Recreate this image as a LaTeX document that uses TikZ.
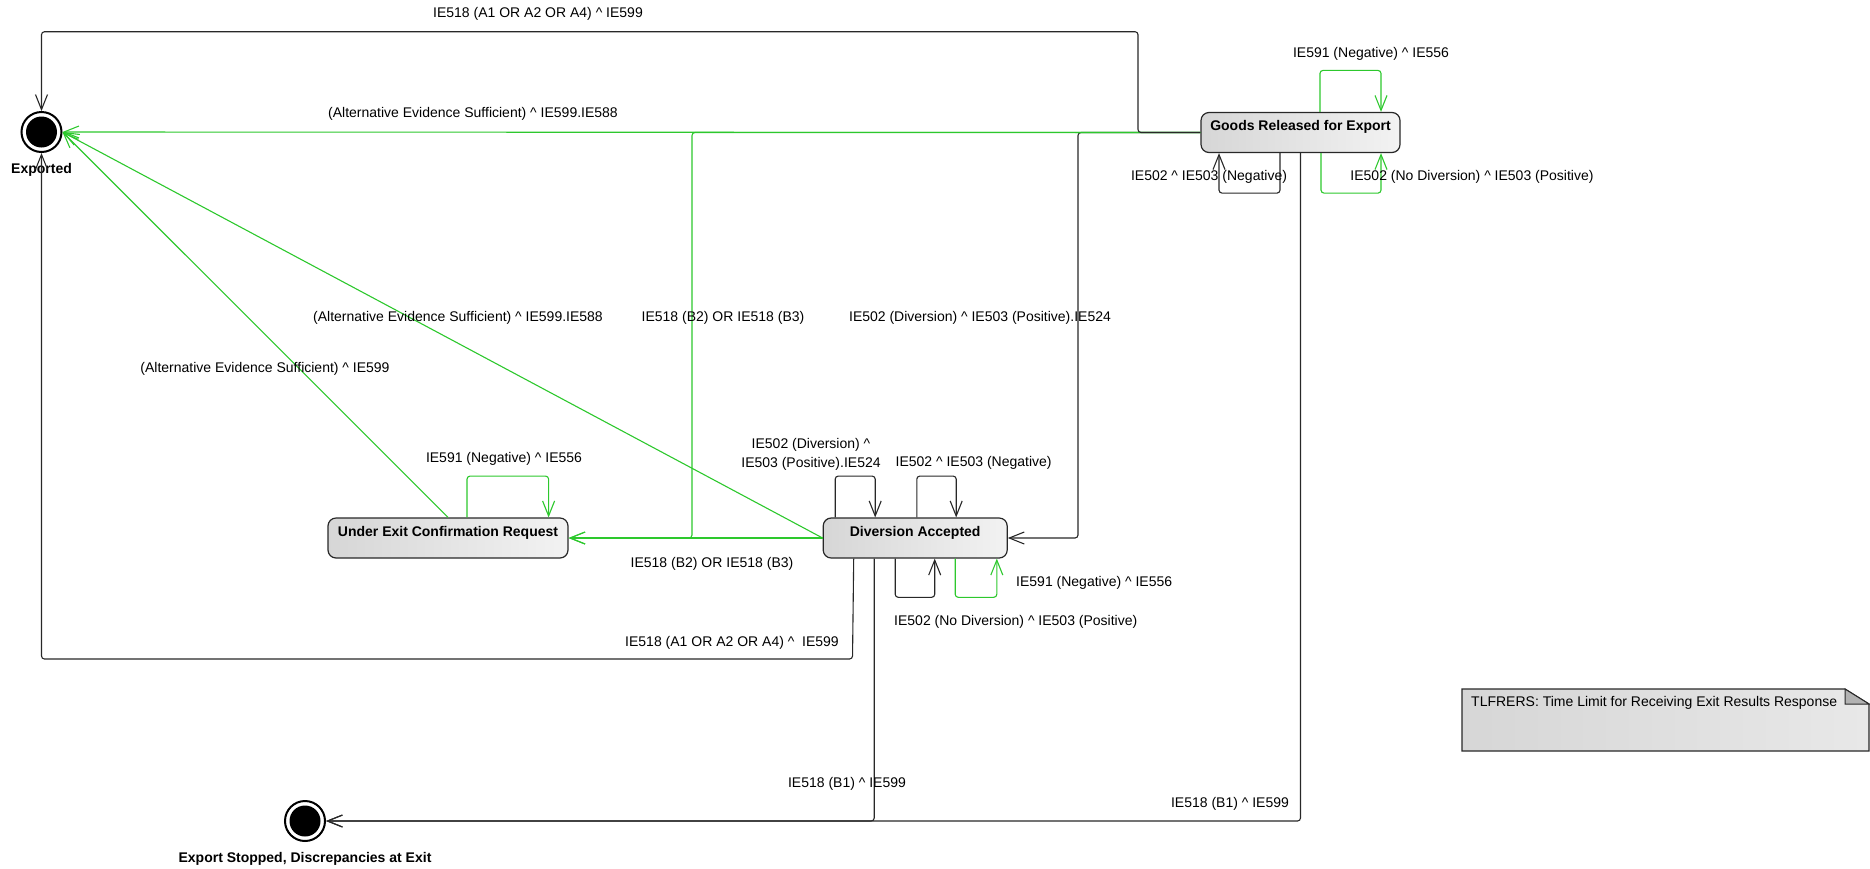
\documentclass[tikz,border=0pt]{standalone}
\usepackage{fontspec}
\setmainfont{Liberation Sans}
\usetikzlibrary{arrows.meta, positioning, calc}
\definecolor{flowgreen}{RGB}{45,200,45}
\definecolor{edgegray}{RGB}{40,40,40}
\newcommand{\msgcaret}{\textasciicircum}
\tikzset{
  state/.style={rectangle, rounded corners=8pt, draw=edgegray, line width=1.2pt,
    left color=gray!32, right color=gray!10, inner xsep=0pt, inner ysep=3pt,
    text height=15pt, text depth=19pt, font=\fontsize{14}{17}\selectfont\bfseries},
  final/.style={circle, draw=black, line width=2pt, fill=white, minimum size=40pt, inner sep=0pt,
    path picture={\fill[black] (path picture bounding box.center) circle (15.5pt);}},
  finallbl/.style={inner sep=0pt, label distance=10pt, font=\fontsize{14}{17}\selectfont\bfseries},
  trans/.style={-{Straight Barb[length=15pt,width=12pt]}, line width=1.1pt, draw=edgegray, rounded corners=3pt},
  gtrans/.style={trans, draw=flowgreen},
  lbl/.style={inner sep=0pt, font=\fontsize{14}{19}\selectfont}
}

\begin{document}
\begin{tikzpicture}[x=1pt, y=-1pt]
  \useasboundingbox (0,0) rectangle (1870,868);
  % states
  \node[final, label={[finallbl]below:Exported}] (exported) at (41.5,132) {};
  \node[state, minimum width=199pt] (goods) at (1300.5,132.5) {Goods Released for Export};
  \node[state, minimum width=240pt] (underexit) at (448,538) {Under Exit Confirmation Request};
  \node[state, minimum width=184pt, right=254pt of underexit] (diversion) {Diversion Accepted};
  \node[final, label={[finallbl]below:Export Stopped, Discrepancies at Exit}] (stopped) at (305,821) {};

  % transitions out of Goods Released
  \draw[trans] (goods.west) -| (1078,538) -- (diversion.east);
  \draw[gtrans] (goods.west) -- (exported.east);
  \draw[gtrans] (goods.west) -| (692,538) -- (underexit.east);
  \draw[trans] (goods.west) -- (1138,132.5) -- (1138,31.7) -| (exported.north);
  \draw[trans] (goods.south) |- (stopped.east);
  \draw[gtrans] ([xshift=19.5pt]goods.north) -- ++(0,-41.5) -| ([xshift=80.5pt]goods.north);
  \draw[trans] ([xshift=-20.5pt]goods.south) -- ++(0,40) -| ([xshift=-81.5pt]goods.south);
  \draw[gtrans] ([xshift=20.5pt]goods.south) -- ++(0,40) -| ([xshift=80.5pt]goods.south);

  % transitions out of Under Exit Confirmation Request
  \draw[gtrans] (underexit.north) -- (exported.east);
  \draw[gtrans] ([xshift=19pt]underexit.north) -- ++(0,-41.3) -| ([xshift=100.6pt]underexit.north);

  % transitions out of Diversion Accepted
  \draw[gtrans] (diversion.west) -- (underexit.east);
  \draw[gtrans] (diversion.west) -- (exported.east);
  \draw[trans] ([xshift=-61.5pt]diversion.south) -- (852.5,659) -| (exported.south);
  \draw[trans] ([xshift=-41pt]diversion.south) |- (stopped.east);
  \draw[trans] ([xshift=-80pt]diversion.north) -- ++(0,-41.3) -| ([xshift=-40pt]diversion.north);
  \draw[trans] ([xshift=1.6pt]diversion.north) -- ++(0,-41.3) -| ([xshift=41pt]diversion.north);
  \draw[trans] ([xshift=-20pt]diversion.south) -- ++(0,38.7) -| ([xshift=19.5pt]diversion.south);
  \draw[gtrans] ([xshift=40pt]diversion.south) -- ++(0,38.7) -| ([xshift=81.6pt]diversion.south);

  % transition labels
  \node[lbl] (lbl-a-top) at (538,14.3) {IE518 (A1 OR A2 OR A4) \msgcaret{} IE599};
  \node[lbl] (lbl-alt-goods) at (473,114) {(Alternative Evidence Sufficient) \msgcaret{} IE599.IE588};
  \node[lbl] (lbl-b2-goods) at (723,318) {IE518 (B2) OR IE518 (B3)};
  \node[lbl] (lbl-div-goods) at (980,318) {IE502 (Diversion) \msgcaret{} IE503 (Positive).IE524};
  \node[lbl] (lbl-alt-div) at (458,317.7) {(Alternative Evidence Sufficient) \msgcaret{} IE599.IE588};
  \node[lbl] (lbl-alt-under) at (265,369) {(Alternative Evidence Sufficient) \msgcaret{} IE599};
  \node[lbl] (lbl-neg-under) at (504,459.3) {IE591 (Negative) \msgcaret{} IE556};
  \node[lbl, align=center] (lbl-div-self) at (811,454) {IE502 (Diversion) \msgcaret\\IE503 (Positive).IE524};
  \node[lbl] (lbl-neg-div) at (973.6,463.3) {IE502 \msgcaret{} IE503 (Negative)};
  \node[lbl] (lbl-b2-div) at (712,564.3) {IE518 (B2) OR IE518 (B3)};
  \node[lbl, anchor=west] (lbl-591-div) at (1016,582.7) {IE591 (Negative) \msgcaret{} IE556};
  \node[lbl, anchor=west] (lbl-nodiv-div) at (894,622) {IE502 (No Diversion) \msgcaret{} IE503 (Positive)};
  \node[lbl] (lbl-a-div) at (732,643) {IE518 (A1 OR A2 OR A4) \msgcaret{}\ \ IE599};
  \node[lbl] (lbl-b1-div) at (847,784) {IE518 (B1) \msgcaret{} IE599};
  \node[lbl] (lbl-b1-goods) at (1230,804) {IE518 (B1) \msgcaret{} IE599};
  \node[lbl] (lbl-591-goods) at (1371,54.3) {IE591 (Negative) \msgcaret{} IE556};
  \node[lbl] (lbl-neg-goods) at (1209,176.7) {IE502 \msgcaret{} IE503 (Negative)};
  \node[lbl] (lbl-nodiv-goods) at (1472,176.7) {IE502 (No Diversion) \msgcaret{} IE503 (Positive)};

  % note
  \path[left color=gray!32, right color=gray!18, draw=edgegray, line width=1.2pt]
    (1462,689) -- (1845,689) -- (1869,704) -- (1869,751) -- (1462,751) -- cycle;
  \filldraw[fill=gray!60, draw=edgegray, line width=1pt] (1845,689) -- (1845,704) -- (1869,704) -- cycle;
  \node[lbl, anchor=west] (tlfrers) at (1471,703) {TLFRERS: Time Limit for Receiving Exit Results Response};
\end{tikzpicture}
\end{document}
